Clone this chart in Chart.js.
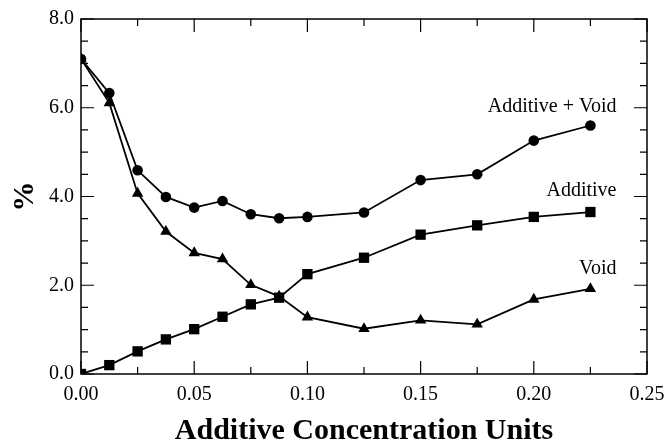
<!DOCTYPE html>
<html lang="en">
<head>
    <meta charset="UTF-8">
    <title>Additive Concentration</title>
    <script src="https://cdn.jsdelivr.net/npm/chart.js"></script>
    <style>
        body { margin: 0; background: #fff; }
        #wrap { width: 668px; height: 444px; }
    </style>
</head>
<body>
    <div id="wrap"><canvas id="chart" width="668" height="444"></canvas></div>

    <script>
        // x values (additive concentration units)
        const conc = [0, 0.0125, 0.025, 0.0375, 0.05, 0.0625, 0.075, 0.0875, 0.1, 0.125, 0.15, 0.175, 0.2, 0.225];
        // series, in %
        const additiveVoid = [7.1, 6.33, 4.59, 3.99, 3.75, 3.9, 3.6, 3.51, 3.54, 3.64, 4.37, 4.5, 5.26, 5.6];
        const additive = [0, 0.2, 0.51, 0.78, 1.01, 1.29, 1.57, 1.72, 2.25, 2.62, 3.14, 3.35, 3.54, 3.65];
        const voidPct = [7.1, 6.11, 4.07, 3.21, 2.73, 2.59, 2.01, 1.75, 1.28, 1.02, 1.21, 1.12, 1.68, 1.92];
        const seriesNames = ["Additive + Void", "Additive", "Void"];

        const SERIF = "'Liberation Serif', 'Times New Roman', serif";

        function pts(ys) {
            return conc.map((x, i) => ({ x: x, y: ys[i] }));
        }

        function lineSet(label, ys, shape, r) {
            return {
                label: label,
                data: pts(ys),
                borderColor: "#000",
                backgroundColor: "#000",
                borderWidth: 1.8,
                pointStyle: shape,
                pointRadius: r,
                pointBorderWidth: 0,
                tension: 0
            };
        }

        // inward ticks on all four sides + frame + series labels
        const framePlugin = {
            id: "frame",
            afterDraw(chart) {
                const ctx = chart.ctx;
                const a = chart.chartArea;
                const xs = chart.scales.x, ys = chart.scales.y;
                ctx.save();
                ctx.strokeStyle = "#000";
                ctx.lineWidth = 1.5;
                ctx.strokeRect(a.left, a.top, a.right - a.left, a.bottom - a.top);
                ctx.lineWidth = 1.2;
                ctx.beginPath();
                for (let v = 0; v <= 0.2501; v += 0.025) {
                    const px = xs.getPixelForValue(v);
                    const len = Math.round(v / 0.025) % 2 === 0 ? 13 : 7;
                    ctx.moveTo(px, a.bottom); ctx.lineTo(px, a.bottom - len);
                    ctx.moveTo(px, a.top); ctx.lineTo(px, a.top + len);
                }
                for (let v = 0; v <= 8.001; v += 0.5) {
                    const py = ys.getPixelForValue(v);
                    const len = Math.round(v / 0.5) % 4 === 0 ? 13 : 7;
                    ctx.moveTo(a.left, py); ctx.lineTo(a.left + len, py);
                    ctx.moveTo(a.right, py); ctx.lineTo(a.right - len, py);
                }
                ctx.stroke();

                ctx.fillStyle = "#000";
                ctx.font = "20px " + SERIF;
                ctx.textAlign = "right";
                ctx.textBaseline = "middle";
                const lx = xs.getPixelForValue(0.2365);
                ctx.fillText(seriesNames[0], lx, ys.getPixelForValue(6.02));
                ctx.fillText(seriesNames[1], lx, ys.getPixelForValue(4.14));
                ctx.fillText(seriesNames[2], lx, ys.getPixelForValue(2.38));
                ctx.restore();
            }
        };

        new Chart(document.getElementById("chart"), {
            type: "line",
            data: {
                datasets: [
                    lineSet(seriesNames[0], additiveVoid, "circle", 5.3),
                    lineSet(seriesNames[1], additive, "rect", 7.3),
                    lineSet(seriesNames[2], voidPct, "triangle", 6.6)
                ]
            },
            options: {
                responsive: false,
                animation: false,
                layout: { padding: { top: 19, right: 21, left: 0, bottom: 0 } },
                plugins: {
                    legend: { display: false },
                    tooltip: { enabled: false }
                },
                scales: {
                    x: {
                        type: "linear",
                        min: 0,
                        max: 0.25,
                        grid: { display: false },
                        border: { display: false },
                        ticks: {
                            stepSize: 0.05,
                            color: "#000",
                            padding: 1,
                            maxRotation: 0,
                            font: { family: SERIF, size: 20 },
                            callback: v => v.toFixed(2)
                        },
                        title: {
                            display: true,
                            text: "Additive Concentration Units",
                            color: "#000",
                            font: { family: SERIF, size: 30, weight: "bold" },
                            padding: { top: 0, bottom: -5 }
                        },
                        afterFit(scale) {
                            scale.height = 70;
                            scale.paddingLeft = 0;
                            scale.paddingRight = 0;
                        }
                    },
                    y: {
                        min: 0,
                        max: 8,
                        grid: { display: false },
                        border: { display: false },
                        ticks: {
                            stepSize: 2,
                            color: "#000",
                            padding: -1,
                            font: { family: SERIF, size: 20 },
                            callback: v => v.toFixed(1)
                        },
                        title: {
                            display: true,
                            text: "%",
                            color: "#000",
                            font: { family: SERIF, size: 30, weight: "bold" },
                            padding: { top: 7, bottom: 0 }
                        },
                        afterFit(scale) {
                            scale.width = 81;
                            scale.paddingTop = 0;
                            scale.paddingBottom = 0;
                        }
                    }
                }
            },
            plugins: [framePlugin]
        });
    </script>
</body>
</html>
